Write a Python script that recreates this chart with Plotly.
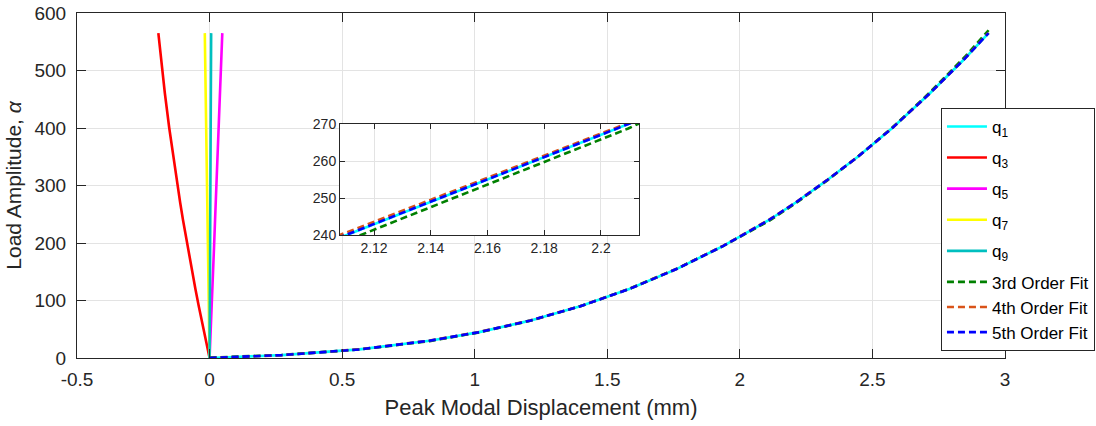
import plotly.graph_objects as go

# Load amplitude steps
alpha = [0, 5, 15, 30, 45, 65, 90, 120, 155, 195, 240, 270, 310, 350, 400, 460, 520, 565]

# Peak modal displacements (mm)
q1 = [0, 0.272, 0.565, 0.83, 1.017, 1.208, 1.398, 1.583, 1.763, 1.938, 2.1104, 2.2096, 2.331, 2.445, 2.575, 2.716, 2.847, 2.938]
q3 = [0, -0.0024, -0.0070, -0.0140, -0.0208, -0.0298, -0.0407, -0.0534, -0.0677, -0.0834, -0.1002, -0.1108, -0.1244, -0.1371, -0.1521, -0.1685, -0.1832, -0.1932]
q5 = [0, 0.0005, 0.0014, 0.0028, 0.0042, 0.006, 0.0082, 0.0108, 0.0137, 0.017, 0.0207, 0.0232, 0.0264, 0.0296, 0.0336, 0.0384, 0.0432, 0.048]
q7 = [0, -0.0002, -0.0005, -0.001, -0.0014, -0.0021, -0.0029, -0.0038, -0.0049, -0.0062, -0.0076, -0.0086, -0.0099, -0.0112, -0.0127, -0.0147, -0.0166, -0.018]
q9 = [0, 0.0001, 0.0002, 0.0003, 0.0005, 0.0007, 0.001, 0.0013, 0.0016, 0.0021, 0.0025, 0.0029, 0.0033, 0.0037, 0.0042, 0.0049, 0.0055, 0.006]

# Polynomial fits of load vs q1 displacement (evaluated at q1 points)
fit3 = [0.6, 5.3, 14.7, 29.4, 44.5, 64.7, 89.9, 120.3, 155.5, 195.1, 238.5, 268.8, 309.4, 350.2, 400.8, 461.6, 523.0, 570.0]
fit4 = [-0.2, 4.9, 15.2, 30.3, 45.3, 65.2, 90.1, 120.1, 155.2, 195.3, 240.7, 270.3, 310.2, 350.0, 399.9, 459.8, 520.1, 565.6]
fit5 = [0.1, 5.0, 14.9, 30.1, 45.0, 64.9, 90.0, 120.0, 155.1, 195.0, 240.1, 270.0, 310.0, 350.0, 400.0, 460.0, 520.0, 565.2]

x_tickvals = [-0.5, 0, 0.5, 1, 1.5, 2, 2.5, 3]
x_ticktext = ["-0.5", "0", "0.5", "1", "1.5", "2", "2.5", "3"]

FONT = "Liberation Sans, Arial, sans-serif"
AX = "#262626"
GRID = "#e3e3e3"
W = 2.6
DASH = "7px,4px"

fig = go.Figure()

modes = [("q<sub>1</sub>", q1, "#00FFFF"),
         ("q<sub>3</sub>", q3, "#FF0000"),
         ("q<sub>5</sub>", q5, "#FF00FF"),
         ("q<sub>7</sub>", q7, "#FFFF00"),
         ("q<sub>9</sub>", q9, "#00BFBF")]
for i, (name, xs, col) in enumerate(modes):
    fig.add_trace(go.Scatter(x=xs, y=alpha, mode="lines", name=name,
                             line=dict(color=col, width=W),
                             legendgroup="g%d" % i))

fits = [("3rd Order Fit", fit3, "#008000"),
        ("4th Order Fit", fit4, "#D95319"),
        ("5th Order Fit", fit5, "#0000FF")]
for name, ys, col in fits:
    fig.add_trace(go.Scatter(x=q1, y=ys, mode="lines", name=name,
                             line=dict(color=col, width=W, dash=DASH),
                             legendgroup="fits"))

# Inset
fig.add_trace(go.Scatter(x=q1, y=alpha, mode="lines", showlegend=False,
                         line=dict(color="#00FFFF", width=W), xaxis="x2", yaxis="y2"))
for name, ys, col in fits:
    fig.add_trace(go.Scatter(x=q1, y=ys, mode="lines", showlegend=False,
                             line=dict(color=col, width=W, dash=DASH),
                             xaxis="x2", yaxis="y2"))

axis_common = dict(showline=True, linecolor=AX, linewidth=1, mirror="ticks",
                   ticks="inside", tickcolor=AX, ticklen=9, tickwidth=1,
                   showgrid=True, gridcolor=GRID, gridwidth=1, zeroline=False,
                   tickfont=dict(family=FONT, size=19, color=AX))

fig.update_layout(
    width=1096, height=426,
    margin=dict(l=77, r=91, t=13, b=68, autoexpand=False),
    paper_bgcolor="white", plot_bgcolor="white",
    font=dict(family=FONT, color=AX),
    xaxis=dict(range=[-0.5, 3], tickvals=x_tickvals, ticktext=x_ticktext,
               ticklabelstandoff=4,
               title=dict(text="Peak Modal Displacement (mm)", font=dict(size=22, family=FONT, color=AX), standoff=10),
               **axis_common),
    yaxis=dict(range=[0, 600], dtick=100, ticklabelstandoff=6,
               title=dict(text="Load Amplitude, <i>α</i>", font=dict(size=21, family=FONT, color=AX), standoff=7),
               **axis_common),
    xaxis2=dict(domain=[0.2834, 0.6056], anchor="y2", range=[2.108, 2.2134], dtick=0.02,
                showline=True, linecolor=AX, linewidth=1, mirror="ticks",
                ticks="inside", tickcolor=AX, ticklen=5, showgrid=True, gridcolor=GRID,
                zeroline=False, tickfont=dict(family=FONT, size=14, color=AX)),
    yaxis2=dict(domain=[0.3565, 0.678], anchor="x2", range=[240, 270], dtick=10,
                showline=True, linecolor=AX, linewidth=1, mirror="ticks",
                ticks="inside", tickcolor=AX, ticklen=5, showgrid=True, gridcolor=GRID,
                zeroline=False, tickfont=dict(family=FONT, size=14, color=AX)),
    legend=dict(x=0.931, y=0.725, xanchor="left", yanchor="top",
                bgcolor="white", bordercolor=AX, borderwidth=1,
                font=dict(family=FONT, size=17, color="#000000"),
                tracegroupgap=6, traceorder="grouped", itemwidth=40),
    showlegend=True,
)

fig.write_html("out.html")
